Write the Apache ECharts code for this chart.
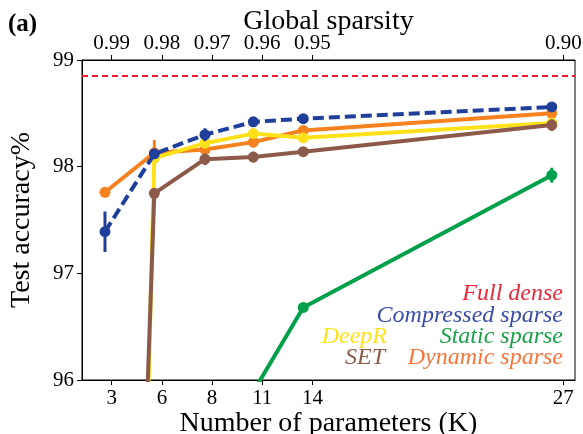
<!DOCTYPE html>
<html>
<head>
<meta charset="utf-8">
<script src="https://cdn.jsdelivr.net/npm/echarts@6/dist/echarts.min.js"></script>
</head>
<body style="margin:0">
<div id="main" style="width:583px;height:434px"></div>
<script>
// x is the density (%) of the network; ticks at 1..10% = sparsity 0.99..0.90
var tickDensity = [1, 2, 3, 4, 5, 10];
var paramLabels = ['3', '6', '8', '11', '14', '27'];
var sparsityLabels = ['0.99', '0.98', '0.97', '0.96', '0.95', '0.90'];
var runDensity = [0.866, 1.849, 2.859, 3.822, 4.818, 9.770];

var fullDense = 98.85;
var compressed = [97.39, 98.12, 98.30, 98.42, 98.45, 98.56];
var compressedErr = [0.19, 0.03, 0.06, 0.03, 0.03, 0.03];
var dynamicSparse = [97.76, 98.13, 98.16, 98.23, 98.34, 98.50];
var dynamicErr = [0.02, 0.12, 0.03, 0.03, 0.03, 0.03];
var deepR = [80.0, 98.08, 98.22, 98.31, 98.27, 98.41];
var deepRErr = [0, 0.05, 0.03, 0.03, 0.03, 0.03];
var setSparse = [84.4, 97.75, 98.07, 98.09, 98.14, 98.39];
var setErr = [0, 0.03, 0.055, 0.05, 0.02, 0.055];
var staticSparse = [80.5, 88.9, 93.6, 95.89, 96.68, 97.92];
var staticErr = [0, 0, 0, 0, 0.02, 0.07];

var FONT = 'Liberation Serif';

function pairs(ys) {
    return ys.map(function (y, i) { return [runDensity[i], y]; });
}

function lineSeries(name, ys, color, z, dashed) {
    return {
        name: name,
        type: 'line',
        data: pairs(ys),
        z: z,
        symbol: 'circle',
        symbolSize: 11,
        clip: true,
        animation: false,
        itemStyle: { color: color },
        lineStyle: { color: color, width: 4, type: dashed ? [11, 5] : 'solid' }
    };
}

function errSeries(ys, errs, color, z) {
    var d = [];
    ys.forEach(function (y, i) {
        if (errs[i] > 0 && y >= 96) d.push([runDensity[i], y, errs[i]]);
    });
    return {
        type: 'custom',
        z: z,
        clip: true,
        animation: false,
        data: d,
        encode: { x: 0, y: 1 },
        renderItem: function (params, api) {
            var p1 = api.coord([api.value(0), api.value(1) - api.value(2)]);
            var p2 = api.coord([api.value(0), api.value(1) + api.value(2)]);
            return {
                type: 'line',
                shape: { x1: p1[0], y1: p1[1], x2: p2[0], y2: p2[1] },
                style: { stroke: color, lineWidth: 3 }
            };
        }
    };
}

var C_BLUE = '#1f3f9a', C_ORANGE = '#f5821f', C_YELLOW = '#ffe11a',
    C_BROWN = '#8c5a4b', C_GREEN = '#00a04a', C_RED = '#ec1c2c';

var chart = echarts.init(document.getElementById('main'));

var xBase = {
    type: 'value',
    min: 0.408,
    max: 10.233,
    splitLine: { show: false },
    axisLine: { show: true, onZero: false, lineStyle: { color: '#000', width: 1 } },
    axisTick: { show: true, inside: false, length: 5, customValues: tickDensity, lineStyle: { color: '#000' } },
    nameLocation: 'middle',
    nameMoveOverlap: false,
    nameTextStyle: { fontFamily: FONT, fontSize: 28, color: '#000' }
};

var option = {
    animation: false,
    backgroundColor: '#fff',
    grid: {
        left: 82, right: 8, top: 60, bottom: 54,
        outerBoundsMode: 'none', containLabel: false,
        show: true, borderColor: '#000', borderWidth: 1
    },
    xAxis: [
        Object.assign({}, xBase, {
            position: 'bottom',
            name: 'Number of parameters (K)',
            nameGap: 30,
            axisLabel: {
                customValues: tickDensity, margin: 8, fontFamily: FONT, fontSize: 21, color: '#000',
                formatter: function (v) { return paramLabels[tickDensity.indexOf(v)]; }
            }
        }),
        Object.assign({}, xBase, {
            position: 'top',
            name: 'Global sparsity',
            nameGap: 24,
            axisLabel: {
                customValues: tickDensity, margin: 6, fontFamily: FONT, fontSize: 21, color: '#000',
                formatter: function (v) { return sparsityLabels[tickDensity.indexOf(v)]; }
            }
        })
    ],
    yAxis: {
        type: 'value',
        min: 96,
        max: 99,
        interval: 1,
        name: 'Test accuracy%',
        nameLocation: 'middle',
        nameGap: 46,
        nameMoveOverlap: false,
        nameTextStyle: { fontFamily: FONT, fontSize: 28, color: '#000' },
        splitLine: { show: false },
        axisLine: { show: true, lineStyle: { color: '#000', width: 1 } },
        axisTick: { show: true, length: 5, lineStyle: { color: '#000' } },
        axisLabel: { margin: 8, fontFamily: FONT, fontSize: 21, color: '#000' }
    },
    graphic: [
        { type: 'text', x: 8, y: 25, style: { text: '(a)', verticalAlign: 'middle', font: 'bold 25px "Liberation Serif"', fill: '#000' } },
        { type: 'text', x: 563, y: 294, style: { text: 'Full dense', align: 'right', verticalAlign: 'middle', font: 'italic 24px "Liberation Serif"', fill: '#e8283a' } },
        { type: 'text', x: 563, y: 316, style: { text: 'Compressed sparse', align: 'right', verticalAlign: 'middle', font: 'italic 24px "Liberation Serif"', fill: '#3a4ca8' } },
        { type: 'text', x: 387, y: 337, style: { text: 'DeepR', align: 'right', verticalAlign: 'middle', font: 'italic 24px "Liberation Serif"', fill: '#ffe31a' } },
        { type: 'text', x: 563, y: 337, style: { text: 'Static sparse', align: 'right', verticalAlign: 'middle', font: 'italic 24px "Liberation Serif"', fill: '#1aa24a' } },
        { type: 'text', x: 385, y: 358, style: { text: 'SET', align: 'right', verticalAlign: 'middle', font: 'italic 24px "Liberation Serif"', fill: '#8c5a4b' } },
        { type: 'text', x: 563, y: 358, style: { text: 'Dynamic sparse', align: 'right', verticalAlign: 'middle', font: 'italic 24px "Liberation Serif"', fill: '#f7743a' } }
    ],
    series: [
        {
            type: 'line', data: [], z: 7, animation: false,
            markLine: {
                silent: true, symbol: 'none', animation: false,
                label: { show: false },
                lineStyle: { color: C_RED, width: 2, type: [6, 4] },
                data: [{ yAxis: fullDense }]
            }
        },
        lineSeries('Dynamic sparse', dynamicSparse, C_ORANGE, 2),
        errSeries(dynamicSparse, dynamicErr, C_ORANGE, 2),
        lineSeries('DeepR', deepR, C_YELLOW, 3),
        errSeries(deepR, deepRErr, C_YELLOW, 3),
        lineSeries('SET', setSparse, C_BROWN, 4),
        errSeries(setSparse, setErr, C_BROWN, 4),
        lineSeries('Static sparse', staticSparse, C_GREEN, 5),
        errSeries(staticSparse, staticErr, C_GREEN, 5),
        lineSeries('Compressed sparse', compressed, C_BLUE, 6, true),
        errSeries(compressed, compressedErr, C_BLUE, 6)
    ]
};

chart.setOption(option);
</script>
</body>
</html>
